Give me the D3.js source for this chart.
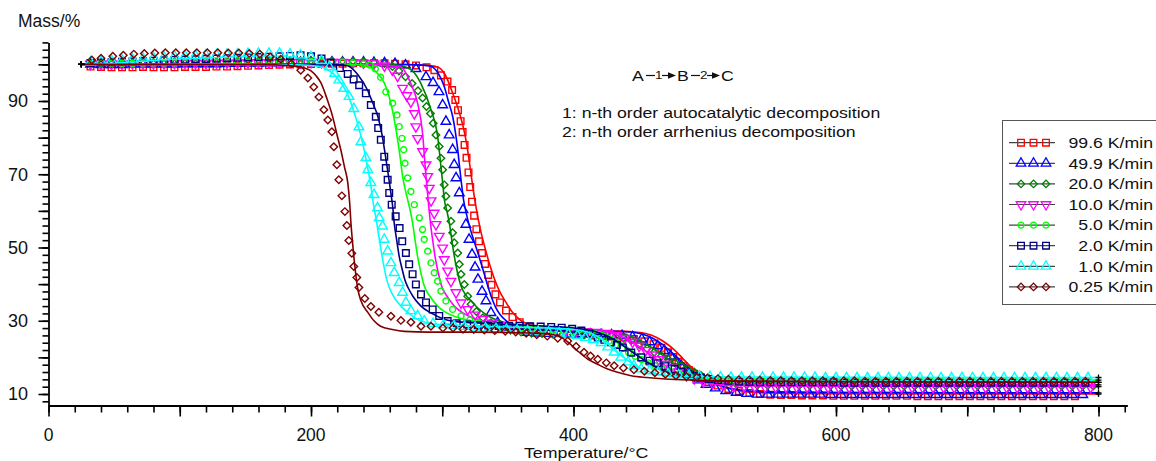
<!DOCTYPE html>
<html><head><meta charset="utf-8">
<script src="https://cdn.jsdelivr.net/npm/d3@7"></script>
<style>body{margin:0;background:#fff;}svg{display:block;}text{font-family:"Liberation Sans",Arial,sans-serif;fill:#111;}</style>
</head><body><svg id="chart" width="1156" height="461"></svg>
<script>
// ---------- DATA ----------
const legendLabels = ["99.6 K/min","49.9 K/min","20.0 K/min","10.0 K/min","5.0 K/min","2.0 K/min","1.0 K/min","0.25 K/min"];
const seriesColors = ["#ff0000","#0000ff","#008000","#ff00ff","#00ff00","#000080","#00ffff","#800000"];
const seriesSymbols = ["square","triangle","diamond","triangleDown","circle","square","triangle","diamond"];
const xTickLabels = [0,200,400,600,800];
const yTickLabels = [10,30,50,70,90];

// experimental points [T °C, mass %]
const exp996 = [[32,99.4],[40,99.3],[48,99.2],[56,99.2],[64,99.2],[72,99.3],[80,99.2],[88,99.2],[96,99.2],[104,99.3],[112,99.3],[120,99.3],[128,99.4],[136,99.4],[144,99.5],[152,99.6],[160,99.7],[168,99.8],[176,99.9],[184,100],[192,100],[200,100.1],[208,100.1],[216,100.2],[224,100.2],[232,100.3],[240,100.3],[248,100.3],[256,100.3],[264,100.2],[272,100],[280,99.7],[288,99.2],[294,98.4],[299,97],[304,95.3],[307.5,93],[310,90.3],[312,87.5],[314,84.5],[315.5,81.5],[317,78],[318.5,74.5],[320,70.5],[321.3,66.5],[322.7,62.5],[324.3,58.7],[326,55],[328,51.7],[330.3,48.5],[332.6,45.5],[335,42.5],[337.5,39.8],[340.5,37.2],[344,35],[348.6,32.8],[353.5,31],[359,29.6],[366,28.4],[374,27.6],[382,27],[390,26.6],[398,26.3],[406,26.1],[414,26],[422,25.9],[430,25.7],[438,25.4],[446,25],[454,24.4],[461,23.6],[467,22.6],[472,21.4],[476,20.1],[480,18.8],[484,17.6],[488,16.5],[492,15.5],[497,14.4],[503,13.3],[510,12.3],[518,11.4],[526,10.8],[534,10.3],[542,10],[550,9.8],[558,9.7],[566,9.7],[574,9.6],[582,9.6],[590,9.6],[598,9.5],[606,9.5],[614,9.5],[622,9.5],[630,9.5],[638,9.5],[646,9.5],[654,9.5],[662,9.4],[670,9.4],[678,9.4],[686,9.4],[694,9.4],[702,9.4],[710,9.4],[718,9.4],[726,9.4],[734,9.4],[742,9.4],[750,9.4],[758,9.4],[766,9.4],[774,9.4],[782,9.4]];
const exp499 = [[32,100],[40,99.9],[48,99.9],[56,99.9],[64,100],[72,100],[80,100],[88,100],[96,100],[104,100.1],[112,100.1],[120,100.1],[128,100.1],[136,100.2],[144,100.2],[152,100.3],[160,100.3],[168,100.4],[176,100.4],[184,100.5],[192,100.5],[200,100.6],[208,100.6],[216,100.6],[224,100.6],[232,100.6],[240,100.6],[248,100.5],[256,100.4],[264,100.2],[272,99.8],[280,98.8],[287.6,96.6],[293,95],[297.5,92.5],[300.3,88.9],[302.8,84.4],[305.3,80.7],[307.9,76.7],[309.1,72.6],[310.5,69],[313,64.9],[315.8,60.3],[318,56.3],[320.4,52.2],[322.7,48.1],[325,44.6],[327.2,41.3],[330.3,38],[333.3,35.4],[337.1,32.2],[342.2,29.5],[349,28.2],[357,27.3],[365,26.8],[373,26.6],[381,26.5],[389,26.5],[397,26.4],[405,26.4],[413,26.3],[421,26.2],[429,26.1],[437,25.9],[445,25.6],[452,25],[458,24.2],[464,23.1],[469,21.8],[474,20.3],[478,18.9],[482,17.5],[486,16.2],[490,15],[495,13.8],[501,12.6],[508,11.6],[516,10.9],[524,10.4],[532,10.1],[540,9.9],[548,9.9],[556,9.9],[564,9.9],[572,9.9],[580,9.9],[588,9.9],[596,9.8],[604,9.8],[612,9.8],[620,9.8],[628,9.8],[636,9.8],[644,9.8],[652,9.8],[660,9.8],[668,9.8],[676,9.8],[684,9.8],[692,9.8],[700,9.8],[708,9.8],[716,9.8],[724,9.8],[732,9.8],[740,9.8],[748,9.8],[756,9.8],[764,9.8],[772,9.8],[780,9.8],[788,9.8]];
const exp200 = [[32,100.4],[40,100.4],[48,100.5],[56,100.5],[64,100.5],[72,100.6],[80,100.6],[88,100.6],[96,100.7],[104,100.7],[112,100.7],[120,100.8],[128,100.8],[136,100.8],[144,100.9],[152,100.9],[160,100.9],[168,101],[176,101],[184,101],[192,101],[200,101],[208,101],[216,101],[224,100.9],[232,100.9],[240,100.8],[248,100.6],[256,100.2],[262,99.4],[267,98.2],[272,96.6],[277,94.8],[281.5,92.8],[285,90.8],[288,88.5],[291,86.6],[293.1,83.9],[295.2,80.7],[297.7,77.6],[299,74.4],[300.3,71.2],[301.5,67.1],[302.8,64],[304.1,60.8],[306.6,57.2],[307.9,54],[309.1,51.3],[311.8,48.5],[313,45.4],[314.3,42.7],[316.8,39.9],[319.4,36.7],[321.9,34.5],[326,32.5],[331,30.8],[337,29.4],[344,28.2],[352,27.4],[360,26.9],[368,26.6],[376,26.5],[384,26.4],[392,26.3],[400,26.2],[408,26.1],[416,26],[424,25.9],[432,25.6],[438,25.3],[444,24.6],[450,23.5],[456,22.4],[461.5,21.4],[467,20.4],[472.2,19.5],[477,18.6],[482.1,17.7],[487,16.8],[492,16],[497,15.1],[503,14.3],[509,13.6],[516,13.1],[524,12.7],[532,12.5],[540,12.4],[548,12.3],[556,12.3],[564,12.3],[572,12.3],[580,12.3],[588,12.3],[596,12.3],[604,12.2],[612,12.2],[620,12.2],[628,12.2],[636,12.2],[644,12.2],[652,12.2],[660,12.2],[668,12.2],[676,12.2],[684,12.2],[692,12.2],[700,12.2],[708,12.2],[716,12.2],[724,12.2],[732,12.2],[740,12.2],[748,12.2],[756,12.2],[764,12.2],[772,12.2],[780,12.2],[788,12.2],[796,12.2]];
const exp100 = [[32,100.1],[40,100.1],[48,100.1],[56,100.1],[64,100.2],[72,100.2],[80,100.2],[88,100.2],[96,100.3],[104,100.3],[112,100.3],[120,100.3],[128,100.4],[136,100.4],[144,100.4],[152,100.5],[160,100.5],[168,100.5],[176,100.5],[184,100.6],[192,100.6],[200,100.6],[208,100.6],[216,100.6],[224,100.6],[232,100.5],[240,100.4],[248,100.2],[256,99.6],[262,98.5],[266,96.8],[269.8,93.5],[273,91.5],[276.1,89.8],[278.7,86.6],[279.9,83],[281.2,79.8],[285,76.2],[287.6,72.6],[288.9,69.4],[290.1,66.2],[291.5,62.8],[293.9,59.4],[295.2,56.3],[297.7,53.1],[300.3,49.9],[301.5,46.7],[304.1,43.6],[306.6,40.8],[310.5,37.7],[314.3,34.9],[319.4,33.1],[325,31.6],[331,30.4],[338,29.4],[346,28.7],[354,28.2],[362,27.9],[370,27.7],[378,27.5],[386,27.4],[394,27.3],[402,27.2],[410,27.1],[418,26.9],[426,26.6],[433,26],[439,25.2],[445,24.2],[450,23.1],[455,21.9],[460,20.7],[465,19.4],[470,18.2],[475,17.1],[480,16.1],[486,15.1],[492,14.2],[499,13.4],[506,12.9],[514,12.5],[522,12.2],[530,12],[538,11.9],[546,11.9],[554,11.9],[562,11.9],[570,11.9],[578,11.9],[586,11.8],[594,11.8],[602,11.8],[610,11.8],[618,11.8],[626,11.8],[634,11.8],[642,11.8],[650,11.8],[658,11.8],[666,11.8],[674,11.8],[682,11.8],[690,11.8],[698,11.8],[706,11.8],[714,11.8],[722,11.8],[730,11.8],[738,11.8],[746,11.8],[754,11.8],[762,11.8],[770,11.8],[778,11.8],[786,11.8],[794,11.8]];
const exp050 = [[32,100.2],[40,100.2],[48,100.3],[56,100.3],[64,100.3],[72,100.4],[80,100.4],[88,100.4],[96,100.5],[104,100.5],[112,100.5],[120,100.6],[128,100.6],[136,100.6],[144,100.7],[152,100.7],[160,100.7],[168,100.8],[176,100.8],[184,100.8],[192,100.8],[200,100.8],[208,100.8],[216,100.7],[224,100.6],[232,100.4],[240,100.1],[245,99.8],[249,98.8],[253,96.5],[257,92.5],[262.2,89.4],[265.5,86.2],[267.2,83],[269.3,79.8],[270.6,76.7],[271.6,73],[273.6,69],[276.1,65.3],[278.7,61.7],[282.5,58.1],[285,54.9],[286.3,52.2],[288.9,49],[291.4,45.8],[293.9,43.1],[296.5,40.8],[299,38.1],[302.8,35.4],[307.9,33.1],[314.3,31.3],[321,30.2],[328,29.4],[336,28.9],[344,28.5],[352,28.2],[360,28],[368,27.8],[376,27.6],[384,27.4],[392,27.2],[400,27],[408,26.7],[415,26.2],[421,25.4],[427,24.4],[432,23.4],[437,22.4],[442,21.3],[447,20.3],[452,19.4],[457,18.5],[462,17.7],[468,16.9],[474,16.1],[481,15.4],[488,14.9],[496,14.5],[504,14.2],[512,14],[520,13.8],[528,13.7],[536,13.7],[544,13.7],[552,13.7],[560,13.6],[568,13.6],[576,13.6],[584,13.6],[592,13.6],[600,13.6],[608,13.6],[616,13.6],[624,13.6],[632,13.6],[640,13.6],[648,13.6],[656,13.6],[664,13.6],[672,13.6],[680,13.6],[688,13.6],[696,13.6],[704,13.6],[712,13.6],[720,13.6],[728,13.6],[736,13.6],[744,13.6],[752,13.6],[760,13.6],[768,13.6],[776,13.6],[784,13.6],[792,13.6]];
const exp020 = [[32,100.4],[40,100.5],[48,100.6],[56,100.7],[64,100.8],[72,100.9],[80,101],[88,101.1],[96,101.2],[104,101.3],[112,101.4],[120,101.5],[128,101.6],[136,101.7],[144,101.8],[152,101.9],[160,102],[168,102.1],[176,102.2],[184,102.3],[192,102.5],[200,102.2],[208,101.6],[215,100.5],[222,99],[228,97.4],[232.5,95.9],[236.7,94.3],[241.8,92.1],[245.6,88.9],[249.4,85.7],[251.2,82.6],[253.2,79.4],[255.8,74.8],[257,71.7],[258.4,68.5],[259.6,64.9],[261.5,61.7],[264.5,58.5],[267.5,55.3],[269.5,51.7],[272.3,48.5],[274.8,45.4],[277.4,42.7],[279.9,39.9],[283.8,37.2],[287.6,35],[292.7,33.1],[297.7,31.3],[304.1,29.9],[311,29.3],[319,29],[327,28.8],[335,28.7],[343,28.6],[351,28.6],[359,28.6],[367,28.5],[375,28.4],[383,28.3],[391,28.1],[399,27.8],[406,27.3],[412,26.6],[418.5,25.4],[423.5,24.8],[428.7,24.1],[433,23.4],[437.6,22.7],[444,21.3],[451.6,20],[457.9,19.1],[464,18.4],[470,17.6],[477,16.8],[482,16.1],[487.2,15.4],[492,14.9],[497,14.5],[503,14.1],[510,13.8],[518,13.6],[526,13.4],[534,13.3],[542,13.2],[550,13.2],[558,13.2],[566,13.2],[574,13.2],[582,13.2],[590,13.2],[598,13.2],[606,13.1],[614,13.1],[622,13.1],[630,13.1],[638,13.1],[646,13.1],[654,13.1],[662,13.1],[670,13.1],[678,13.1],[686,13.1],[694,13.1],[702,13.1],[710,13.1],[718,13.1],[726,13.1],[734,13.1],[742,13.1],[750,13.1],[758,13.1],[766,13.1],[774,13.1],[782,13.1],[790,13.1]];
const exp010 = [[32,100.6],[40,100.8],[48,101],[56,101.2],[64,101.4],[72,101.6],[80,101.8],[88,102],[96,102.2],[104,102.3],[112,102.4],[120,102.5],[128,102.6],[136,102.7],[144,102.8],[152,102.9],[160,103],[168,103],[176,103],[184,102.8],[192,102.5],[200,102],[208,101],[214,99.3],[218,97.5],[221.2,95.7],[225,93.4],[229,91.2],[232.6,87.9],[236.5,82.9],[238,78.8],[241.8,74.5],[243.3,71.2],[245.6,67.7],[248,64.4],[250.7,60.8],[252,58.1],[254.5,55.8],[255.8,52.2],[258.4,49],[260.9,45.8],[263.4,43.1],[267.2,40.4],[269.8,37.7],[272.3,35],[276.1,32.7],[281.2,31.3],[286.3,29.9],[293,29.2],[301,28.9],[309,28.6],[317,28.4],[325,28.2],[333,28],[341,27.8],[349,27.6],[357,27.4],[365,27.2],[373,27],[381,26.8],[389,26.6],[396,26.3],[403,25.9],[409,25.4],[415,24.8],[421,24],[426,22.8],[431,21.4],[436,20],[441.6,18.7],[446,17.7],[451.6,16.8],[458,16.3],[464.5,15.9],[472,15.5],[480,15.2],[488,15],[496,14.8],[504,14.7],[512,14.6],[520,14.5],[528,14.5],[536,14.5],[544,14.5],[552,14.5],[560,14.5],[568,14.5],[576,14.5],[584,14.5],[592,14.4],[600,14.4],[608,14.4],[616,14.4],[624,14.4],[632,14.4],[640,14.4],[648,14.4],[656,14.4],[664,14.4],[672,14.4],[680,14.4],[688,14.4],[696,14.4],[704,14.4],[712,14.4],[720,14.4],[728,14.4],[736,14.4],[744,14.4],[752,14.4],[760,14.4],[768,14.4],[776,14.4],[784,14.4],[792,14.4]];
const exp025 = [[33,101.2],[40,101.7],[49,102.2],[57,102.5],[65,102.8],[73,103],[81,103.1],[89,103.2],[97,103.2],[105,103.2],[113,103.2],[121,103.2],[129,103.2],[137,103.1],[145,103.1],[153,103],[161,102.8],[169,102],[177,101.4],[185,100.2],[192.2,98.4],[197.6,96.3],[202.1,93.8],[206,91.1],[209.8,87.6],[212.8,84.8],[215.9,81.6],[217.4,77.5],[219.7,72.6],[221.2,68.5],[223.5,64.1],[225.8,59.8],[227.3,56],[228.8,51.9],[231.1,48.4],[232.6,44.8],[234.9,41.8],[236.5,39.1],[241,36.1],[245.6,33.9],[251.7,32.3],[260.9,31.2],[268.5,30.1],[276.1,29.6],[283.8,28.5],[291.4,28.5],[300.5,28],[308.2,28],[315.8,27.7],[324,27.6],[332,27.5],[340,27.3],[348,27.1],[356,26.9],[364,26.6],[372,26.2],[380,25.8],[388,25.2],[395.6,24.5],[402,23],[408,21.4],[413,20.4],[418.5,19.5],[425,18.5],[431,17.7],[438,17.1],[446,16.6],[454,16.2],[462,15.8],[470,15.4],[478,15],[486,14.8],[494,14.6],[502,14.4],[510,14.2],[518,14],[526,13.9],[534,13.8],[542,13.8],[550,13.7],[558,13.7],[566,13.6],[574,13.6],[582,13.6],[590,13.6],[598,13.6],[606,13.6],[614,13.6],[622,13.5],[630,13.5],[638,13.5],[646,13.5],[654,13.5],[662,13.5],[670,13.5],[678,13.5],[686,13.5],[694,13.5],[702,13.5],[710,13.5],[718,13.5],[726,13.5],[734,13.5],[742,13.5],[750,13.5],[758,13.5],[766,13.5],[774,13.5],[782,13.5],[790,13.5]];

// model (fitted) curves [T °C, mass %]
const fit996 = [[25,100],[200,100],[270,99.95],[290,99.7],[296.5,99.3],[302,97.3],[308,92.1],[312,88],[315.6,83.5],[318.5,78.5],[321,72.5],[323.5,66],[326,60.5],[329,55],[332.5,50],[336,45.5],[340,41.2],[344,37.8],[348.6,35],[353,32.5],[359,30.3],[366,28.9],[375,28],[400,27.5],[440,27.1],[455,26.5],[463,25.5],[470,24],[477,22],[483,19.8],[489,17.6],[495,15.8],[501,14.2],[508,12.8],[516,11.7],[526,10.9],[540,10.4],[580,10.1],[800,10]];
const fit499 = [[25,100],[200,100],[270,99.95],[285,99.8],[291.4,99.5],[297,97.5],[301.6,93.9],[305,89.5],[308,85.7],[310,81.5],[311.8,76.7],[313.2,72],[314.6,67.6],[316.2,63.1],[318.4,59.2],[321,55.5],[324.2,51.8],[327.6,48],[331,44],[334.2,40.1],[337.3,36.6],[340.5,33.8],[344,31.7],[349,29.9],[357,28.5],[370,27.6],[390,27.3],[420,27.2],[440,27],[452,26.4],[460,25.3],[468,23.5],[475,21.3],[482,19],[489,16.8],[496,15],[503,13.6],[511,12.4],[520,11.5],[532,10.9],[550,10.5],[600,10.4],[800,10.3]];
const fit200 = [[25,100],[200,100],[250,99.95],[265,99.8],[272,99.3],[278,98],[283.7,94.8],[291.4,87.6],[296.5,80.3],[299,72.1],[300.5,67],[301.6,63.1],[303.5,60],[305.4,56.7],[307.3,52],[309.2,47.6],[311.5,43.3],[314.3,39.5],[318,37],[322,35.4],[328,33.2],[335,31.3],[345,29.8],[360,28.7],[380,28],[410,27.5],[430,27],[442,26],[451,24.6],[459,22.8],[467,20.8],[475,18.7],[483,16.8],[491,15.2],[500,14],[510,13.2],[525,12.8],[560,12.6],[800,12.5]];
const fit100 = [[25,100],[200,100],[240,99.95],[255,99.8],[262,99.6],[268.5,99.3],[276,94.8],[281.2,89.4],[285,81.2],[287,72.1],[288.5,66],[289.8,61],[291,56.7],[292.7,52],[294.5,47.6],[296.8,43.3],[299.5,39.5],[304,36.5],[309.2,34],[315,32.3],[322,31],[335,29.6],[350,28.8],[380,28],[410,27.6],[425,27],[435,26],[443,24.6],[451,22.7],[459,20.6],[467,18.5],[475,16.6],[483,15],[492,13.8],[502,13],[515,12.5],[540,12.2],[800,12]];
const fit050 = [[25,100],[200,100],[225,99.95],[236,99.9],[243,99.6],[250,97.8],[256,94.8],[262,87.6],[266,79.4],[268,74.5],[269.8,69.4],[271.7,66],[273.6,63.1],[275.5,60.3],[277.4,56.7],[279.3,52],[281.2,47.6],[283.5,43.5],[286.3,39.5],[291,36.5],[296.5,34],[303,32.2],[311.8,30.9],[322,30],[335,29.3],[350,28.8],[380,28.3],[400,27.9],[415,27.3],[425,26.3],[433,24.8],[441,22.8],[449,20.7],[457,18.8],[465,17.2],[474,15.9],[484,15],[495,14.4],[510,14.1],[540,13.9],[800,13.8]];
const fit020 = [[25,100],[200,100],[215,99.95],[222,99.85],[228,99.6],[236,97],[243,93],[247,89.5],[251,85.7],[254,81],[256,76.7],[258,72],[259.8,67.6],[261,64.5],[262.3,61],[263.4,56.7],[265.3,52],[267.2,47.6],[269.5,44],[271.5,41.2],[274,39],[278,36.5],[283.8,34],[292,32],[301.6,30.4],[312,29.7],[322,29.5],[350,29],[380,28.5],[400,28],[415,27.2],[425,26],[433,24.4],[441,22.4],[449,20.4],[457,18.5],[465,16.9],[474,15.6],[484,14.6],[495,14],[510,13.6],[540,13.4],[800,13.2]];
const fit010 = [[25,100],[150,100],[190,99.9],[205,99.5],[213.6,98.4],[220,96.3],[227.6,92.1],[234,85.6],[239.3,78.6],[243,72.1],[245.5,67],[247.5,62],[249.5,58],[251.5,53.5],[253.5,49],[255.5,45],[257.5,41.5],[260,38.8],[264,36],[268.5,34],[274,32.2],[281,30.4],[288,29.5],[296,29],[310,28.8],[322,28.6],[350,28.3],[380,28],[400,27.6],[410,27],[418,25.8],[425,24],[432,21.8],[440,19.5],[448,17.6],[456,16.3],[465,15.4],[478,14.9],[495,14.7],[530,14.6],[800,14.5]];
const fit025 = [[25,100],[160,99.95],[185,99.6],[195,99],[200,98.2],[204,96.8],[207.5,95],[212,90.8],[216.6,85.6],[220,80.5],[222.7,76.7],[225.5,72],[228,67.7],[229.5,62],[230.4,56.8],[231.5,52],[232.6,47.6],[234,43],[235.7,38.6],[238,35.5],[243.3,32.3],[248,30],[253,28.5],[262,27.6],[271,27.1],[290,26.9],[320,26.9],[350,26.8],[370,26.6],[385,26.2],[392,25.2],[396,24.1],[403,21.8],[411,19.5],[418,18.2],[426,16.8],[435,15.8],[444,15],[456,14.5],[470,14.1],[490,13.8],[520,13.6],[600,13.4],[800,13.2]];

const expData = [exp996, exp499, exp200, exp100, exp050, exp020, exp010, exp025];
const fitData = [fit996, fit499, fit200, fit100, fit050, fit020, fit010, fit025];

// ---------- DRAWING ----------
const svg = d3.select("#chart");
const X0 = 48.5, PX = 1.3125;
const x = d3.scaleLinear().domain([0, 822]).range([X0, X0 + 822 * PX]);
const y = d3.scaleLinear().domain([6.86, 106]).range([405.5, 42.4]);
const SX = 1.22; // horizontal stretch of annotation/legend text

function stext(g, tx, ty, str, size, anchor, sx) {
  return g.append("text")
    .attr("transform", `translate(${tx},${ty}) scale(${sx || SX},1)`)
    .attr("text-anchor", anchor || "start")
    .attr("font-size", size)
    .text(str);
}

function symbolPath(type) {
  switch (type) {
    case "square": return { d: d3.symbol().type(d3.symbolSquare).size(44)(), r: 0 };
    case "triangle": return { d: d3.symbol().type(d3.symbolTriangle).size(40)(), r: 0 };
    case "triangleDown": return { d: d3.symbol().type(d3.symbolTriangle).size(40)(), r: 180 };
    case "diamond": return { d: d3.symbol().type(d3.symbolSquare).size(28)(), r: 45 };
    case "circle": return { d: d3.symbol().type(d3.symbolCircle).size(28)(), r: 0 };
  }
}

// axes
const axisG = svg.append("g");
const xMinor = d3.range(0, 821, 20);
const xMajor = d3.range(0, 801, 100);
const yMinor = d3.range(8, 107, 2);
const yMajor = d3.range(10, 101, 10);

axisG.append("g").attr("transform", `translate(0,${y.range()[0]})`)
  .call(d3.axisBottom(x).tickValues(xMinor).tickSize(7).tickSizeOuter(0).tickFormat(""));
const gx2 = axisG.append("g").attr("transform", `translate(0,${y.range()[0]})`)
  .call(d3.axisBottom(x).tickValues(xMajor).tickSize(11).tickSizeOuter(0).tickFormat(""));
gx2.select(".domain").remove();
axisG.append("g").attr("transform", `translate(${X0},0)`)
  .call(d3.axisLeft(y).tickValues(yMinor).tickSize(6).tickSizeOuter(0).tickFormat(""));
const gy2 = axisG.append("g").attr("transform", `translate(${X0},0)`)
  .call(d3.axisLeft(y).tickValues(yMajor).tickSize(10).tickSizeOuter(0).tickFormat(""));
gy2.select(".domain").remove();
axisG.selectAll(".domain").attr("stroke", "#000").attr("stroke-width", 1.8);
axisG.selectAll(".tick line").attr("stroke", "#000").attr("stroke-width", 1.6);

axisG.selectAll(".xl").data(xTickLabels).join("text")
  .attr("x", d => x(d)).attr("y", 440.5).attr("text-anchor", "middle")
  .attr("font-size", 17.5).text(d => d);
axisG.selectAll(".yl").data(yTickLabels).join("text")
  .attr("x", 28).attr("y", d => y(d) + 6.4).attr("text-anchor", "end")
  .attr("font-size", 18).text(d => d);

svg.append("text").attr("x", 18).attr("y", 27).attr("font-size", 17.5).text("Mass/%");
stext(svg, 524, 457.8, "Temperature/°C", 14.8, "start", 1.2);

// series
const plot = svg.append("g");
const line = d3.line().x(d => x(d[0])).y(d => y(d[1])).curve(d3.curveMonotoneX);
expData.forEach((pts, i) => {
  const sp = symbolPath(seriesSymbols[i]);
  const g = plot.append("g");
  g.selectAll("path.m").data(pts).join("path").attr("class", "m")
    .attr("d", sp.d)
    .attr("transform", d => `translate(${x(d[0])},${y(d[1])}) rotate(${sp.r})`)
    .attr("fill", "none").attr("stroke", seriesColors[i]).attr("stroke-width", 1.4);
  g.append("path").datum(fitData[i]).attr("d", line)
    .attr("fill", "none").attr("stroke", seriesColors[i]).attr("stroke-width", 1.6);
});
// black + at model curve ends
fitData.forEach(f => {
  [f[0], f[f.length - 1]].forEach(p => {
    plot.append("path").attr("d", "M-3,0H3M0,-3V3")
      .attr("transform", `translate(${x(p[0])},${y(p[1])})`)
      .attr("stroke", "#000").attr("stroke-width", 1.3);
  });
});

// annotation
const ann = svg.append("g");
stext(ann, 632, 80.5, "A", 14.5);
stext(ann, 677, 80.5, "B", 14.5);
stext(ann, 721, 80.5, "C", 14.5);
ann.append("line").attr("x1", 646).attr("x2", 655).attr("y1", 75.5).attr("y2", 75.5).attr("stroke", "#111").attr("stroke-width", 1.2);
stext(ann, 658.7, 78.5, "1", 11, "middle");
ann.append("line").attr("x1", 662).attr("x2", 670).attr("y1", 75.5).attr("y2", 75.5).attr("stroke", "#111").attr("stroke-width", 1.2);
ann.append("path").attr("d", "M668,72.3L676,75.5L668,78.7Z").attr("fill", "#111");
ann.append("line").attr("x1", 691).attr("x2", 700).attr("y1", 75.5).attr("y2", 75.5).attr("stroke", "#111").attr("stroke-width", 1.2);
stext(ann, 703.7, 78.5, "2", 11, "middle");
ann.append("line").attr("x1", 707).attr("x2", 714).attr("y1", 75.5).attr("y2", 75.5).attr("stroke", "#111").attr("stroke-width", 1.2);
ann.append("path").attr("d", "M712,72.3L720,75.5L712,78.7Z").attr("fill", "#111");
stext(ann, 562, 117.7, "1: n-th order autocatalytic decomposition", 14.5);
stext(ann, 562, 136.5, "2: n-th order arrhenius decomposition", 14.5);

// legend
const lg = svg.append("g");
lg.append("rect").attr("x", 1002.5).attr("y", 120.5).attr("width", 170).attr("height", 184)
  .attr("fill", "#fff").attr("stroke", "#555").attr("stroke-width", 1);
legendLabels.forEach((lab, i) => {
  const cy = 142.7 + i * 20.6;
  lg.append("line").attr("x1", 1009).attr("x2", 1055).attr("y1", cy).attr("y2", cy)
    .attr("stroke", "#444").attr("stroke-width", 1.2);
  const sp = symbolPath(seriesSymbols[i]);
  [1021, 1033.5, 1046].forEach(mx => {
    lg.append("path").attr("d", sp.d)
      .attr("transform", `translate(${mx},${cy}) rotate(${sp.r})`)
      .attr("fill", "none").attr("stroke", seriesColors[i]).attr("stroke-width", 1.3);
  });
  stext(lg, 1153, cy + 5.2, lab, 14.5, "end");
});
</script>
</body></html>
